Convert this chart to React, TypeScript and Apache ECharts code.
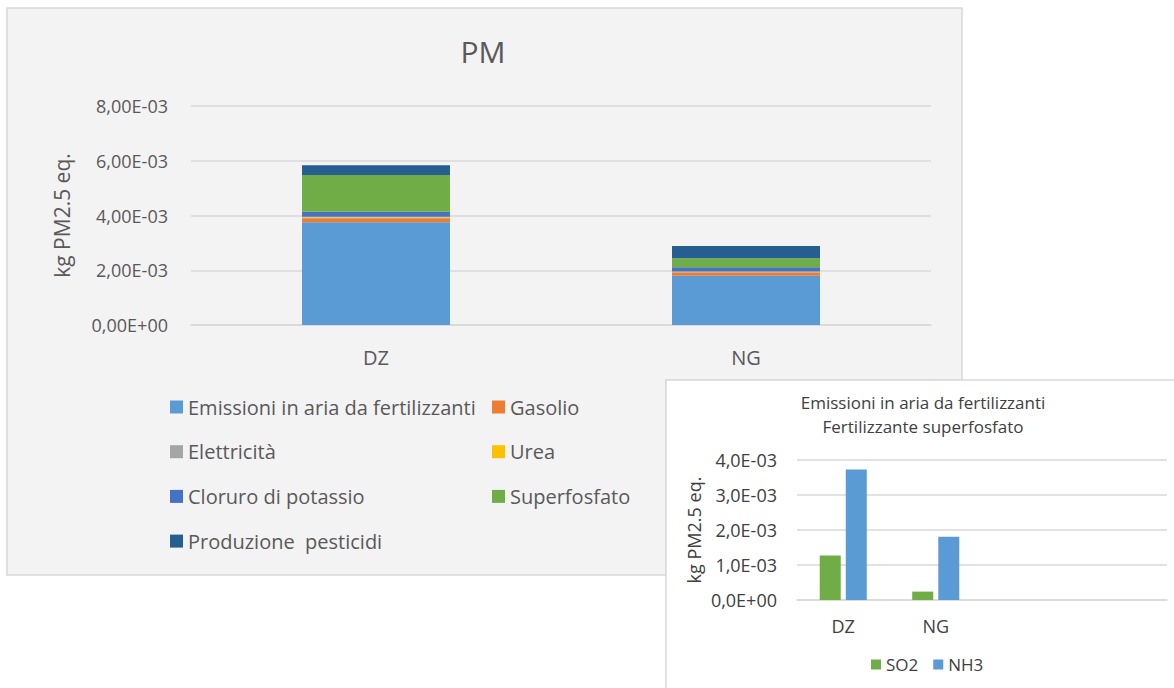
import React, { useEffect, useRef } from "react";
import * as echarts from "echarts";

// ---- Main chart data (kg PM2.5 eq.) ----
const categories = ["DZ", "NG"];
const emissioni = [3.75e-3, 1.8e-3];
const gasolio = [1.45e-4, 1.2e-4];
const elettricita = [3e-5, 2e-5];
const urea = [3e-5, 1e-5];
const cloruro = [1.8e-4, 1.6e-4];
const superfosfato = [1.34e-3, 3.3e-4];
const pesticidi = [3.65e-4, 4.5e-4];

const mainSeriesNames = [
  "Emissioni in aria da fertilizzanti",
  "Gasolio",
  "Elettricità",
  "Urea",
  "Cloruro di potassio",
  "Superfosfato",
  "Produzione  pesticidi",
];
const mainColors = ["#5b9bd5", "#ed7d31", "#a5a5a5", "#ffc000", "#4472c4", "#70ad47", "#255e91"];
const mainValues = [emissioni, gasolio, elettricita, urea, cloruro, superfosfato, pesticidi];

// ---- Inset chart data ----
const insetCategories = ["DZ", "NG", "", ""];
const so2 = [1.27e-3, 2.4e-4];
const nh3 = [3.73e-3, 1.81e-3];

const FONT = "Open Sans";

function sci(v: number, d: number): string {
  if (v === 0) return (0).toFixed(d).replace(".", ",") + "E+00";
  let e = Math.floor(Math.log10(Math.abs(v)));
  let m = v / Math.pow(10, e);
  if (Number(m.toFixed(d)) >= 10) {
    m /= 10;
    e += 1;
  }
  return m.toFixed(d).replace(".", ",") + "E" + (e < 0 ? "-" : "+") + String(Math.abs(e)).padStart(2, "0");
}

export default function App() {
  const ref = useRef<HTMLDivElement>(null);
  useEffect(() => {
    if (!ref.current) return;
    const chart = echarts.init(ref.current, undefined, { renderer: "svg" });
    const mainSeries = mainSeriesNames.map((name, i) => ({
      name,
      type: "bar",
      stack: "total",
      xAxisIndex: 0,
      yAxisIndex: 0,
      barWidth: 148,
      itemStyle: { color: mainColors[i] },
      data: mainValues[i],
    }));
    const option: any = {
      animation: false,
      textStyle: { fontFamily: FONT },
      graphic: [
        {
          type: "polygon",
          z: -10,
          shape: {
            points: [
              [7, 8],
              [962, 8],
              [962, 380],
              [666, 380],
              [666, 575],
              [7, 575],
            ],
          },
          style: { fill: "#f3f3f3", stroke: "#d9d9d9", lineWidth: 1.5 },
          silent: true,
        },
        {
          type: "rect",
          z: -10,
          shape: { x: 666, y: 380, width: 530, height: 330 },
          style: { fill: "#ffffff", stroke: "#d9d9d9", lineWidth: 1.5 },
          silent: true,
        },
      ],
      title: [
        {
          text: "PM",
          left: 483,
          top: 36,
          padding: 0,
          textAlign: "center",
          textStyle: { fontFamily: FONT, fontSize: 30, fontWeight: "normal", color: "#595959" },
        },
        {
          text: "Emissioni in aria da fertilizzanti\nFertilizzante superfosfato",
          left: 923,
          top: 390,
          padding: 0,
          textAlign: "center",
          textStyle: { fontFamily: FONT, fontSize: 17, lineHeight: 24, fontWeight: "normal", color: "#404040" },
        },
      ],
      legend: [
        {
          orient: "vertical",
          left: 170,
          top: 396,
          padding: 0,
          itemWidth: 13,
          itemHeight: 13,
          itemGap: 22.7,
          icon: "rect",
          data: [mainSeriesNames[0], mainSeriesNames[2], mainSeriesNames[4], mainSeriesNames[6]],
          textStyle: { fontFamily: FONT, fontSize: 20, lineHeight: 22, color: "#595959" },
        },
        {
          orient: "vertical",
          left: 492,
          top: 396,
          padding: 0,
          itemWidth: 13,
          itemHeight: 13,
          itemGap: 22.7,
          icon: "rect",
          data: [mainSeriesNames[1], mainSeriesNames[3], mainSeriesNames[5]],
          textStyle: { fontFamily: FONT, fontSize: 20, lineHeight: 22, color: "#595959" },
        },
        {
          orient: "horizontal",
          left: 871,
          top: 656,
          padding: 0,
          itemWidth: 10,
          itemHeight: 10,
          itemGap: 15,
          icon: "rect",
          data: ["SO2", "NH3"],
          textStyle: { fontFamily: FONT, fontSize: 17, color: "#404040" },
        },
      ],
      grid: [
        { left: 191, right: 243, top: 106, bottom: 363 },
        { left: 797, right: 7, top: 460, bottom: 88 },
      ],
      xAxis: [
        {
          type: "category",
          gridIndex: 0,
          data: categories,
          axisLine: { lineStyle: { color: "#d9d9d9", width: 1.5 } },
          axisTick: { show: false },
          axisLabel: { fontFamily: FONT, fontSize: 20, color: "#595959", margin: 22 },
        },
        {
          type: "category",
          gridIndex: 1,
          data: insetCategories,
          axisLine: { lineStyle: { color: "#d9d9d9", width: 1.5 } },
          axisTick: { show: false },
          axisLabel: { fontFamily: FONT, fontSize: 18, color: "#404040", margin: 17 },
        },
      ],
      yAxis: [
        {
          type: "value",
          gridIndex: 0,
          min: 0,
          max: 0.008,
          interval: 0.002,
          name: "kg PM2.5 eq.",
          nameLocation: "middle",
          nameGap: 119,
          nameTextStyle: { fontFamily: FONT, fontSize: 21, color: "#595959" },
          axisLine: { show: false },
          axisTick: { show: false },
          splitLine: { lineStyle: { color: "#d9d9d9", width: 1.5 } },
          axisLabel: {
            fontFamily: FONT,
            fontSize: 18,
            color: "#595959",
            margin: 23,
            formatter: (v: number) => sci(v, 2),
          },
        },
        {
          type: "value",
          gridIndex: 1,
          min: 0,
          max: 0.004,
          interval: 0.001,
          name: "kg PM2.5 eq.",
          nameLocation: "middle",
          nameGap: 94,
          nameTextStyle: { fontFamily: FONT, fontSize: 18, color: "#404040" },
          axisLine: { show: false },
          axisTick: { show: false },
          splitLine: { lineStyle: { color: "#d9d9d9", width: 1.5 } },
          axisLabel: {
            fontFamily: FONT,
            fontSize: 18,
            color: "#404040",
            margin: 20,
            formatter: (v: number) => sci(v, 1),
          },
        },
      ],
      series: [
        ...mainSeries,
        {
          name: "SO2",
          type: "bar",
          xAxisIndex: 1,
          yAxisIndex: 1,
          barWidth: 21,
          barGap: "24%",
          itemStyle: { color: "#70ad47" },
          data: so2,
        },
        {
          name: "NH3",
          type: "bar",
          xAxisIndex: 1,
          yAxisIndex: 1,
          barWidth: 21,
          barGap: "24%",
          itemStyle: { color: "#5b9bd5" },
          data: nh3,
        },
      ],
    };
    chart.setOption(option);
    return () => chart.dispose();
  }, []);
  return (
    <div
      ref={ref}
      style={{ position: "absolute", left: 0, top: 0, width: 1174, height: 688 }}
    />
  );
}
